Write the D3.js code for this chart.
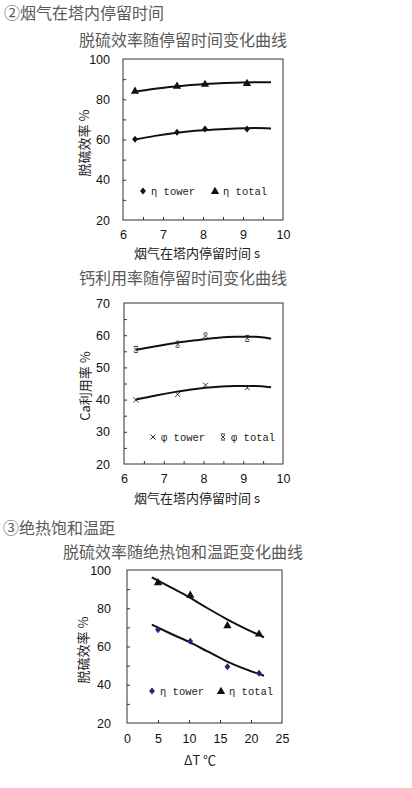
<!DOCTYPE html>
<html><head><meta charset="utf-8">
<script src="https://cdn.jsdelivr.net/npm/d3@7"></script>
<style>
body{margin:0;background:#fff;}
svg{display:block;}
</style></head>
<body>
<svg id="c" width="412" height="788"></svg>
<script>
// ---------- data ----------
const timeTicks = [6, 7, 8, 9, 10];
const timeX = [6.3, 7.35, 8.05, 9.1];
const fitTimeX = [6.3, 6.8, 7.3, 7.8, 8.3, 8.8, 9.3, 9.7];

const etaTowerTime = [60.1, 63.6, 65.2, 65.2];
const etaTotalTime = [84.2, 86.7, 87.6, 88.0];
const etaTowerTimeFit = [60.0, 61.8, 63.2, 64.3, 65.0, 65.5, 65.7, 65.5];
const etaTotalTimeFit = [83.8, 85.2, 86.3, 87.2, 87.8, 88.2, 88.4, 88.4];
const etaTicks = [20, 40, 60, 80, 100];

const phiTower = [39.9, 41.6, 44.5, 43.7];
const phiTotal = [55.6, 57.2, 59.75, 59.0];
const phiTowerFit = [40.0, 41.3, 42.4, 43.3, 43.9, 44.2, 44.2, 43.8];
const phiTotalFit = [55.5, 56.6, 57.6, 58.4, 59.1, 59.5, 59.5, 58.9];
const phiTicks = [20, 30, 40, 50, 60, 70];

const dT = [5.0, 10.2, 16.2, 21.3];
const dTTicks = [0, 5, 10, 15, 20, 25];
const fitDTX = [4, 7, 10, 13, 16, 19, 22.1];
const etaTowerDT = [68.8, 62.8, 49.4, 46.0];
const etaTotalDT = [93.6, 87.0, 71.1, 66.7];
const etaTowerDTFit = [71.4, 66.8, 62.4, 57.4, 52.4, 48.3, 44.7];
const etaTotalDTFit = [96.2, 91.0, 85.8, 80.0, 74.5, 69.5, 64.8];

const texts = {
  h2: "②烟气在塔内停留时间",
  t1: "脱硫效率随停留时间变化曲线",
  t2: "钙利用率随停留时间变化曲线",
  h3: "③绝热饱和温距",
  t3: "脱硫效率随绝热饱和温距变化曲线",
  yEta: "脱硫效率 %",
  yPhi: "Ca利用率 %",
  xTime: "烟气在塔内停留时间 s",
  xDT: "ΔT ℃"
};

// ---------- drawing ----------
const svg = d3.select("#c");
const CJK = "'Noto Sans CJK SC', sans-serif";
const NUM = "'Liberation Sans', Arial, sans-serif";
const MONO = "'Liberation Mono', 'DejaVu Sans Mono', monospace";

function heading(txt, x, y, size) {
  svg.append("text").attr("x", x).attr("y", y).attr("font-family", CJK)
    .attr("font-size", size).attr("fill", "#5a5a5a").text(txt);
}
heading(texts.h2, 4, 19, 16);
heading(texts.h3, 3, 534, 16);

function marker(g, type, x, y, color) {
  if (type === "diamond") {
    g.append("path").attr("d", d3.symbol(d3.symbolDiamond2, 26)())
      .attr("transform", `translate(${x},${y}) scale(0.9,1.1)`).attr("fill", color);
  } else if (type === "triangle") {
    g.append("path").attr("d", d3.symbol(d3.symbolTriangle, 30)())
      .attr("transform", `translate(${x},${y + 0.5})`).attr("fill", color);
  } else if (type === "cross") {
    g.append("path").attr("d", `M${x-2.5},${y-2.5}L${x+2.5},${y+2.5}M${x+2.5},${y-2.5}L${x-2.5},${y+2.5}`)
      .attr("stroke", color).attr("stroke-width", 1);
  } else if (type === "star") {
    g.append("path").attr("d", `M${x-2},${y-2}L${x+2},${y+2}M${x+2},${y-2}L${x-2},${y+2}M${x-2},${y-3}L${x+2},${y-3}M${x-2},${y+3}L${x+2},${y+3}`)
      .attr("stroke", color).attr("stroke-width", 1);
  }
}

function chart(cfg) {
  const g = svg.append("g");
  const x = d3.scaleLinear().domain(cfg.xDomain).range(cfg.xRange);
  const y = d3.scaleLinear().domain(cfg.yDomain).range(cfg.yRange);
  const [x0, x1] = cfg.xRange, [y0, y1] = cfg.yRange;
  const fmt = d3.format("d");

  // title
  g.append("text").attr("x", cfg.titleX).attr("y", cfg.titleY).attr("text-anchor", "middle")
    .attr("font-family", CJK).attr("font-size", 16).attr("fill", "#5a5a5a").text(cfg.title);

  // minor/major ticks inside
  g.append("g").attr("transform", `translate(${x0},0)`)
    .call(d3.axisLeft(y).tickValues(cfg.yMinor).tickSize(-3).tickFormat(""))
    .call(s => s.select(".domain").remove())
    .call(s => s.selectAll("line").attr("stroke", "#333"));
  g.append("g").attr("transform", `translate(0,${y0})`)
    .call(d3.axisBottom(x).tickValues(cfg.xMinor).tickSize(-3).tickFormat(""))
    .call(s => s.select(".domain").remove())
    .call(s => s.selectAll("line").attr("stroke", "#333"));

  // tick labels
  g.append("g").attr("transform", `translate(${x0},0)`)
    .call(d3.axisLeft(y).tickValues(cfg.yTicks).tickSize(0).tickPadding(cfg.yPad).tickFormat(fmt))
    .call(s => s.select(".domain").remove())
    .call(s => s.selectAll("text").attr("font-family", NUM).attr("font-size", 12.5).attr("fill", "#111"));
  g.append("g").attr("transform", `translate(0,${y0})`)
    .call(d3.axisBottom(x).tickValues(cfg.xTicks).tickSize(0).tickPadding(cfg.xPad).tickFormat(fmt))
    .call(s => s.select(".domain").remove())
    .call(s => s.selectAll("text").attr("font-family", NUM).attr("font-size", 12.5).attr("fill", "#111"));

  // frame
  g.append("rect").attr("x", x0).attr("y", y1).attr("width", x1 - x0).attr("height", y0 - y1)
    .attr("fill", "none").attr("stroke", "#333").attr("stroke-width", 1);

  // fit curves
  const line = d3.line().x(d => x(d[0])).y(d => y(d[1])).curve(d3.curveMonotoneX);
  cfg.series.forEach(s => {
    g.append("path").datum(d3.zip(s.fitX, s.fit)).attr("d", line)
      .attr("fill", "none").attr("stroke", "#111").attr("stroke-width", 2);
    s.vals.forEach((v, i) => marker(g, s.marker, x(s.xs[i]), y(v), s.color));
  });

  // legend
  cfg.series.forEach(s => {
    marker(g, s.marker, s.legX, cfg.legY, s.color);
    g.append("text").attr("x", s.legX + 8).attr("y", cfg.legY + 4)
      .attr("font-family", MONO).attr("font-size", 10.5).attr("fill", "#222").text(s.name);
  });

  // axis titles
  g.append("text").attr("transform", `translate(${cfg.yTitleX},${cfg.yTitleY}) rotate(-90)`)
    .attr("text-anchor", "middle").attr("font-family", CJK).attr("font-size", 13).attr("fill", "#222")
    .text(cfg.yTitle);
  g.append("text").attr("x", cfg.xTitleX).attr("y", cfg.xTitleY).attr("text-anchor", "middle")
    .attr("font-family", CJK).attr("font-size", 13).attr("fill", "#222").text(cfg.xTitle);
}

const halfTime = d3.range(6.5, 10, 0.5);

chart({
  title: texts.t1, titleX: 183, titleY: 46,
  xDomain: [6, 10], xRange: [123, 283], yDomain: [20, 100], yRange: [220, 59],
  xTicks: timeTicks, yTicks: etaTicks, xMinor: halfTime, yMinor: d3.range(30, 100, 10),
  yPad: 13, xPad: 10,
  legY: 191,
  series: [
    { name: "η tower", marker: "diamond", color: "#111", xs: timeX, vals: etaTowerTime, fitX: fitTimeX, fit: etaTowerTimeFit, legX: 143 },
    { name: "η total", marker: "triangle", color: "#111", xs: timeX, vals: etaTotalTime, fitX: fitTimeX, fit: etaTotalTimeFit, legX: 215 }
  ],
  yTitle: texts.yEta, yTitleX: 89, yTitleY: 143,
  xTitle: texts.xTime, xTitleX: 197, xTitleY: 258
});

chart({
  title: texts.t2, titleX: 183, titleY: 284,
  xDomain: [6, 10], xRange: [124, 283], yDomain: [20, 70], yRange: [464, 303],
  xTicks: timeTicks, yTicks: phiTicks, xMinor: halfTime, yMinor: d3.range(25, 70, 5),
  yPad: 14, xPad: 10,
  legY: 437,
  series: [
    { name: "φ tower", marker: "cross", color: "#333", xs: timeX, vals: phiTower, fitX: fitTimeX, fit: phiTowerFit, legX: 153 },
    { name: "φ total", marker: "star", color: "#333", xs: timeX, vals: phiTotal, fitX: fitTimeX, fit: phiTotalFit, legX: 223 }
  ],
  yTitle: texts.yPhi, yTitleX: 90, yTitleY: 386,
  xTitle: texts.xTime, xTitleX: 197, xTitleY: 503
});

chart({
  title: texts.t3, titleX: 183, titleY: 558,
  xDomain: [0, 25], xRange: [127, 282], yDomain: [20, 100], yRange: [723, 570],
  xTicks: dTTicks, yTicks: etaTicks, xMinor: [5, 10, 15, 20], yMinor: d3.range(30, 100, 10),
  yPad: 16, xPad: 11,
  legY: 691,
  series: [
    { name: "η tower", marker: "diamond", color: "#24247a", xs: dT, vals: etaTowerDT, fitX: fitDTX, fit: etaTowerDTFit, legX: 152 },
    { name: "η total", marker: "triangle", color: "#111", xs: dT, vals: etaTotalDT, fitX: fitDTX, fit: etaTotalDTFit, legX: 221 }
  ],
  yTitle: texts.yEta, yTitleX: 88, yTitleY: 650,
  xTitle: texts.xDT, xTitleX: 200, xTitleY: 765
});
</script>
</body></html>
